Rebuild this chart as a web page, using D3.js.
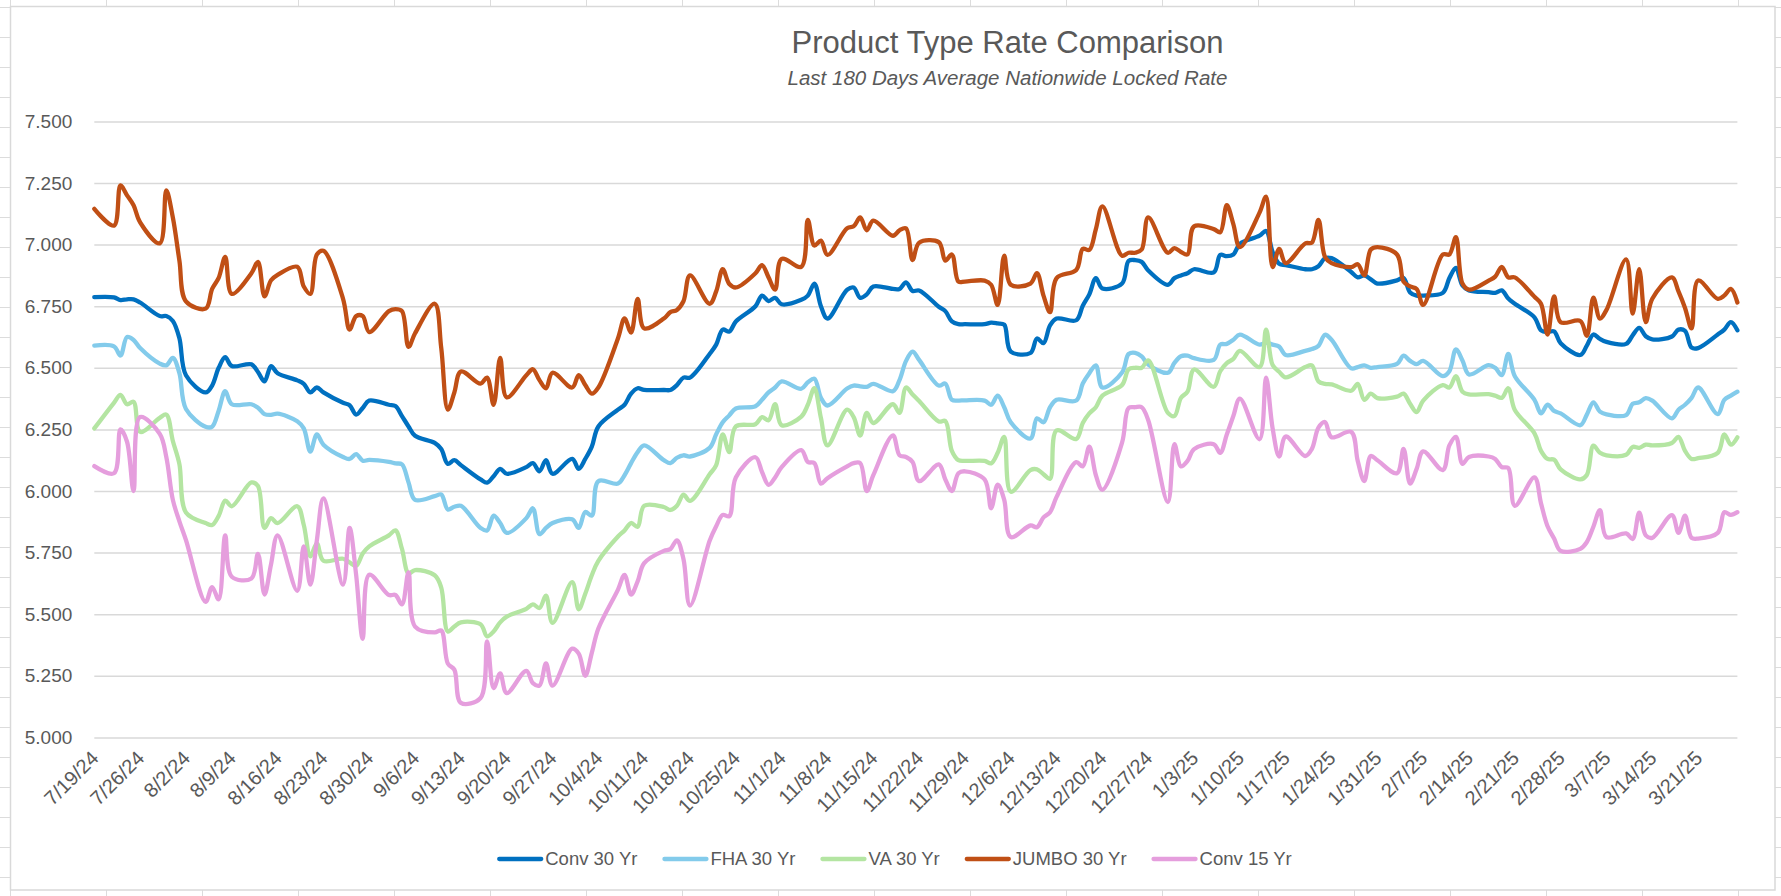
<!DOCTYPE html>
<html>
<head>
<meta charset="utf-8">
<title>Product Type Rate Comparison</title>
<script src="https://cdn.jsdelivr.net/npm/d3@7"></script>
<style>
  html, body { margin: 0; padding: 0; background: #ffffff; }
  svg { display: block; }
  text { font-family: "Liberation Sans", Arial, sans-serif; fill: #595959; }
</style>
</head>
<body>
<div id="chart"></div>
<script>
const FRAME_WIDTH = 1781;
const FRAME_HEIGHT = 896;

// plot box inside the chart area
const PLOT = {left: 94.3, right: 1737.4, top: 121.4, bottom: 737.4};

// ---- data ----
// one value per business day, 7/19/24 .. 3/27/25 (180 days)
const FIRST_DAY = "2024-07-19";
const LAST_DAY = "2025-03-27";

const SERIES_NAMES = ["Conv 30 Yr", "FHA 30 Yr", "VA 30 Yr", "JUMBO 30 Yr", "Conv 15 Yr"];

const X_TICK_LABELS = ["7/19/24", "7/26/24", "8/2/24", "8/9/24", "8/16/24", "8/23/24", "8/30/24",
  "9/6/24", "9/13/24", "9/20/24", "9/27/24", "10/4/24", "10/11/24", "10/18/24", "10/25/24",
  "11/1/24", "11/8/24", "11/15/24", "11/22/24", "11/29/24", "12/6/24", "12/13/24", "12/20/24",
  "12/27/24", "1/3/25", "1/10/25", "1/17/25", "1/24/25", "1/31/25", "2/7/25", "2/14/25",
  "2/21/25", "2/28/25", "3/7/25", "3/14/25", "3/21/25"];

const Y_TICKS = [5.0, 5.25, 5.5, 5.75, 6.0, 6.25, 6.5, 6.75, 7.0, 7.25, 7.5];

const conv30 = [
  6.787,
  6.786, 6.775, 6.778, 6.778, 6.765,
  6.71, 6.71, 6.69, 6.62, 6.47,
  6.40, 6.428, 6.50, 6.543, 6.507,
  6.514, 6.483, 6.445, 6.507, 6.478,
  6.449, 6.435, 6.40, 6.42, 6.40,
  6.358, 6.348, 6.31, 6.337, 6.367,
  6.35, 6.345, 6.304, 6.262, 6.224,
  6.195, 6.17, 6.11, 6.125, 6.105,
  6.047, 6.034, 6.06, 6.09, 6.07,
  6.097, 6.113, 6.08, 6.125, 6.07,
  6.13, 6.09, 6.13, 6.18, 6.262,
  6.33, 6.35, 6.395, 6.417, 6.41,
  6.41, 6.41, 6.43, 6.46, 6.46,
  6.556, 6.594, 6.655, 6.647, 6.688,
  6.75, 6.793, 6.771, 6.784, 6.758,
  6.776, 6.793, 6.842, 6.75, 6.70,
  6.817, 6.826, 6.784, 6.798, 6.83,
  6.82, 6.82, 6.847, 6.812, 6.814,
  6.748, 6.73, 6.688, 6.677, 6.677,
  6.677, 6.683, 6.68, 6.675, 6.566,
  6.56, 6.619, 6.60, 6.672, 6.70,
  6.693, 6.752, 6.798, 6.864, 6.822,
  6.842, 6.934, 6.937, 6.93, 6.895,
  6.837, 6.864, 6.875, 6.884, 6.90,
  6.887, 6.958, 6.953, 6.96, 7.003,
  7.036, 7.055, 6.97, 6.922, 6.917,
  6.90, 6.90, 6.912, 6.945, 6.945,
  6.889, 6.867, 6.875, 6.859, 6.842,
  6.855, 6.865, 6.806, 6.793, 6.793,
  6.804, 6.864, 6.905, 6.834, 6.814,
  6.807, 6.804, 6.814, 6.781, 6.76,
  6.705, 6.652, 6.645, 6.648, 6.60,
  6.552, 6.59, 6.635, 6.617, 6.605,
  6.597, 6.632, 6.662, 6.628, 6.615,
  6.627, 6.655, 6.65, 6.582, 6.58,
  6.635, 6.655, 6.685, 6.652
];

const fha30 = [
  6.59,
  6.587, 6.55, 6.625, 6.613, 6.58,
  6.517, 6.51, 6.54, 6.478, 6.333,
  6.261, 6.261, 6.326, 6.405, 6.352,
  6.352, 6.338, 6.312, 6.309, 6.314,
  6.283, 6.254, 6.16, 6.23, 6.188,
  6.138, 6.13, 6.15, 6.123, 6.126,
  6.118, 6.112, 6.108, 6.035, 5.964,
  5.979, 5.986, 5.925, 5.936, 5.94,
  5.85, 5.84, 5.90, 5.87, 5.83,
  5.89, 5.93, 5.825, 5.85, 5.87,
  5.885, 5.85, 5.915, 5.90, 6.04,
  6.03, 6.064, 6.113, 6.158, 6.185,
  6.125, 6.113, 6.135, 6.145, 6.14,
  6.175, 6.23, 6.279, 6.307, 6.335,
  6.344, 6.37, 6.40, 6.42, 6.445,
  6.415, 6.441, 6.456, 6.378, 6.347,
  6.416, 6.428, 6.425, 6.423, 6.435,
  6.405, 6.45, 6.528, 6.566, 6.532,
  6.428, 6.436, 6.37, 6.367, 6.368,
  6.367, 6.35, 6.387, 6.34, 6.279,
  6.213, 6.295, 6.279, 6.34, 6.37,
  6.367, 6.436, 6.478, 6.51, 6.42,
  6.481, 6.556, 6.561, 6.546, 6.513,
  6.48, 6.52, 6.547, 6.549, 6.539,
  6.532, 6.594, 6.597, 6.614, 6.635,
  6.594, 6.602, 6.594, 6.586, 6.552,
  6.569, 6.576, 6.589, 6.634, 6.614,
  6.498, 6.503, 6.51, 6.50, 6.503,
  6.516, 6.549, 6.528, 6.515, 6.528,
  6.466, 6.486, 6.575, 6.53, 6.473,
  6.511, 6.50, 6.47, 6.556, 6.466,
  6.37, 6.315, 6.35, 6.325, 6.315,
  6.267, 6.31, 6.36, 6.322, 6.311,
  6.308, 6.354, 6.36, 6.377, 6.367,
  6.295, 6.33, 6.35, 6.378, 6.42,
  6.312, 6.37, 6.387, 6.403
];

const va30 = [
  6.254,
  6.358, 6.39, 6.352, 6.362, 6.24,
  6.297, 6.31, 6.203, 6.109, 5.913,
  5.87, 5.862, 5.899, 5.961, 5.938,
  6.035, 6.02, 5.85, 5.89, 5.87,
  5.938, 5.862, 5.735, 5.787, 5.717,
  5.725, 5.71, 5.696, 5.746, 5.775,
  5.82, 5.84, 5.765, 5.666, 5.679,
  5.658, 5.608, 5.43, 5.45, 5.467,
  5.459, 5.41, 5.43, 5.467, 5.49,
  5.522, 5.54, 5.525, 5.575, 5.465,
  5.63, 5.52, 5.583, 5.658, 5.716,
  5.815, 5.84, 5.87, 5.855, 5.94,
  5.935, 5.923, 5.94, 5.985, 5.96,
  6.068, 6.105, 6.23, 6.158, 6.262,
  6.271, 6.30, 6.287, 6.352, 6.267,
  6.302, 6.35, 6.417, 6.296, 6.185,
  6.33, 6.30, 6.225, 6.317, 6.276,
  6.352, 6.317, 6.42, 6.392, 6.365,
  6.282, 6.284, 6.163, 6.125, 6.122,
  6.122, 6.112, 6.155, 6.22, 5.997,
  6.085, 6.088, 6.068, 6.05, 6.246,
  6.211, 6.276, 6.315, 6.34, 6.387,
  6.43, 6.494, 6.50, 6.50, 6.53,
  6.317, 6.304, 6.378, 6.403, 6.493,
  6.423, 6.486, 6.519, 6.536, 6.569,
  6.503, 6.655, 6.511, 6.484, 6.461,
  6.503, 6.51, 6.445, 6.435, 6.433,
  6.407, 6.435, 6.37, 6.395, 6.377,
  6.383, 6.395, 6.354, 6.32, 6.367,
  6.43, 6.42, 6.466, 6.403, 6.392,
  6.393, 6.387, 6.378, 6.417, 6.329,
  6.234, 6.163, 6.13, 6.127, 6.088,
  6.047, 6.065, 6.184, 6.155, 6.145,
  6.147, 6.179, 6.175, 6.188, 6.185,
  6.195, 6.22, 6.163, 6.13, 6.133,
  6.155, 6.23, 6.188, 6.218
];

const jumbo30 = [
  7.145,
  7.077, 7.24, 7.20, 7.16, 7.09,
  7.005, 7.22, 7.11, 6.935, 6.77,
  6.74, 6.82, 6.865, 6.95, 6.80,
  6.884, 6.93, 6.79, 6.855, 6.877,
  6.91, 6.83, 6.80, 6.96, 6.975,
  6.78, 6.655, 6.71, 6.71, 6.645,
  6.73, 6.738, 6.73, 6.585, 6.64,
  6.76, 6.58, 6.33, 6.40, 6.485,
  6.436, 6.46, 6.35, 6.54, 6.38,
  6.47, 6.494, 6.45, 6.417, 6.48,
  6.42, 6.47, 6.43, 6.395, 6.42,
  6.62, 6.70, 6.643, 6.78, 6.66,
  6.70, 6.726, 6.735, 6.77, 6.875,
  6.76, 6.81, 6.90, 6.84, 6.826,
  6.884, 6.917, 6.867, 6.817, 6.942,
  6.91, 7.10, 6.996, 7.016, 6.958,
  7.066, 7.074, 7.11, 7.058, 7.097,
  7.036, 7.058, 7.066, 6.937, 7.008,
  7.01, 6.935, 6.96, 6.85, 6.85,
  6.854, 6.837, 6.755, 6.955, 6.837,
  6.842, 6.884, 6.793, 6.726, 6.864,
  6.897, 6.983, 6.978, 7.063, 7.155,
  6.955, 6.967, 6.967, 6.98, 7.11,
  6.967, 6.986, 6.97, 6.96, 7.074,
  7.063, 7.05, 7.16, 7.083, 6.99,
  7.13, 7.195, 6.909, 6.983, 6.925,
  7.005, 7.008, 7.10, 6.95, 6.925,
  6.909, 6.92, 6.875, 6.98, 6.99,
  6.96, 6.85, 6.83, 6.82, 6.755,
  6.96, 6.96, 7.03, 6.842, 6.817,
  6.854, 6.87, 6.91, 6.867, 6.867,
  6.788, 6.76, 6.635, 6.79, 6.685,
  6.69, 6.63, 6.785, 6.70, 6.735,
  6.94, 6.72, 6.90, 6.685, 6.78,
  6.867, 6.81, 6.743, 6.66, 6.854,
  6.78, 6.793, 6.82, 6.765
];

const conv15 = [
  6.101,
  6.072, 6.25, 6.20, 6.0, 6.30,
  6.232, 6.138, 5.964, 5.877, 5.801,
  5.55, 5.61, 5.56, 5.82, 5.652,
  5.645, 5.745, 5.58, 5.703, 5.82,
  5.595, 5.775, 5.62, 5.80, 5.97,
  5.62, 5.85, 5.659, 5.40, 5.66,
  5.578, 5.578, 5.54, 5.67, 5.45,
  5.426, 5.434, 5.30, 5.275, 5.14,
  5.16, 5.39, 5.20, 5.26, 5.18,
  5.27, 5.22, 5.21, 5.30, 5.21,
  5.36, 5.34, 5.25, 5.343, 5.442,
  5.60, 5.66, 5.58, 5.633, 5.707,
  5.757, 5.764, 5.80, 5.724, 5.535,
  5.798, 5.857, 5.903, 5.898, 6.055,
  6.137, 6.077, 6.025, 6.055, 6.097,
  6.166, 6.118, 6.113, 6.03, 6.052,
  6.10, 6.113, 6.113, 6.0, 6.064,
  6.226, 6.145, 6.138, 6.118, 6.04,
  6.108, 6.047, 6.0, 6.072, 6.08,
  6.047, 5.93, 6.026, 5.964, 5.813,
  5.86, 5.853, 5.893, 5.914, 5.976,
  6.117, 6.10, 6.18, 6.064, 6.005,
  6.196, 6.337, 6.34, 6.34, 6.287,
  5.955, 6.19, 6.10, 6.122, 6.17,
  6.19, 6.155, 6.229, 6.304, 6.375,
  6.21, 6.46, 6.254, 6.14, 6.221,
  6.142, 6.171, 6.257, 6.28, 6.218,
  6.24, 6.122, 6.04, 6.142, 6.125,
  6.072, 6.171, 6.03, 6.09, 6.161,
  6.085, 6.185, 6.22, 6.11, 6.138,
  6.14, 6.13, 6.097, 6.093, 5.94,
  6.055, 5.95, 5.857, 5.807, 5.757,
  5.765, 5.793, 5.855, 5.922, 5.813,
  5.828, 5.805, 5.912, 5.82, 5.81,
  5.902, 5.83, 5.90, 5.81, 5.807,
  5.83, 5.914, 5.903, 5.914
];

const SERIES_VALUES = [conv30, fha30, va30, jumbo30, conv15];
const SERIES_COLORS = ["#0070c0", "#83cbeb", "#b4e5a2", "#c04f15", "#e59edd"];

// ---- build ----
const parseIso = d3.timeParse("%Y-%m-%d");
const parseTick = d3.timeParse("%m/%d/%y");

// business days between the first and last day
const DATES = d3.timeDay.range(parseIso(FIRST_DAY), d3.timeDay.offset(parseIso(LAST_DAY), 1))
                .filter(d => d.getDay() !== 0 && d.getDay() !== 6);

SERIES_VALUES.forEach((s, i) => {
    if (s.length !== DATES.length) console.error(SERIES_NAMES[i] + " has " + s.length + " values, dates: " + DATES.length);
});

const svg = d3.select("#chart")
              .append("svg")
                .attr("width", FRAME_WIDTH)
                .attr("height", FRAME_HEIGHT);

// spreadsheet cells behind the chart
const sheet = svg.append("g").attr("stroke", "#dcdcdc").attr("stroke-width", 1);
sheet.append("rect")
    .attr("width", FRAME_WIDTH).attr("height", FRAME_HEIGHT)
    .attr("fill", "#ffffff").attr("stroke", "none");
sheet.selectAll("line.col")
    .data(d3.range(10.5, FRAME_WIDTH, 96))
    .enter().append("line")
      .attr("class", "col")
      .attr("x1", d => d).attr("x2", d => d)
      .attr("y1", 0).attr("y2", FRAME_HEIGHT);
sheet.selectAll("line.row")
    .data(d3.range(7.5, FRAME_HEIGHT, 30))
    .enter().append("line")
      .attr("class", "row")
      .attr("y1", d => d).attr("y2", d => d)
      .attr("x1", 0).attr("x2", FRAME_WIDTH);

// chart area
svg.append("rect")
    .attr("x", 10.5).attr("y", 6.5)
    .attr("width", 1764.5).attr("height", 883.5)
    .attr("fill", "#ffffff")
    .attr("stroke", "#d9d9d9")
    .attr("stroke-width", 1.5);

const X_SCALE = d3.scaleTime()
                  .domain([DATES[0], DATES[DATES.length - 1]])
                  .range([PLOT.left, PLOT.right]);
const Y_SCALE = d3.scaleLinear()
                  .domain([5, 7.5])
                  .range([PLOT.bottom, PLOT.top]);

// y axis with gridlines
svg.append("g")
    .attr("transform", "translate(" + PLOT.left + ",0)")
    .call(d3.axisLeft(Y_SCALE)
            .tickValues(Y_TICKS)
            .tickFormat(d3.format(".3f"))
            .tickSize(-(PLOT.right - PLOT.left))
            .tickPadding(22))
    .attr("font-size", 19)
    .call(g => g.select(".domain").remove())
    .call(g => g.selectAll(".tick line")
                .attr("stroke", "#d9d9d9")
                .attr("stroke-width", 1.5));

// x axis, weekly labels turned 45 degrees
svg.append("g")
    .attr("transform", "translate(0," + PLOT.bottom + ")")
    .call(d3.axisBottom(X_SCALE)
            .tickValues(X_TICK_LABELS.map(parseTick))
            .tickFormat((d, i) => X_TICK_LABELS[i])
            .tickSize(0)
            .tickPadding(0))
    .attr("font-size", 20)
    .call(g => g.select(".domain").remove())
    .call(g => g.selectAll(".tick text")
                .attr("y", 0)
                .attr("dy", "0.35em")
                .attr("text-anchor", "end")
                .attr("transform", "translate(0,17) rotate(-45)"));

// series lines
const line = d3.line()
               .x((d, i) => X_SCALE(DATES[i]))
               .y(d => Y_SCALE(d))
               .curve(d3.curveCatmullRom.alpha(0.5));

svg.append("g")
    .selectAll("path")
    .data(SERIES_VALUES)
    .enter()
    .append("path")
      .attr("d", d => line(d))
      .attr("fill", "none")
      .attr("stroke", (d, i) => SERIES_COLORS[i])
      .attr("stroke-width", 4.3)
      .attr("stroke-linecap", "round")
      .attr("stroke-linejoin", "round");

// titles
svg.append("text")
    .attr("x", 1007.5).attr("y", 53)
    .attr("text-anchor", "middle")
    .attr("font-size", 31)
    .text("Product Type Rate Comparison");
svg.append("text")
    .attr("x", 1007.5).attr("y", 85)
    .attr("text-anchor", "middle")
    .attr("font-size", 20.5)
    .attr("font-style", "italic")
    .text("Last 180 Days Average Nationwide Locked Rate");

// legend, centred under the chart
const LEGEND_Y = 859;
const legend = svg.append("g");
const items = legend.selectAll("g")
    .data(SERIES_NAMES)
    .enter().append("g");
items.append("line")
    .attr("x1", 0).attr("x2", 42)
    .attr("y1", LEGEND_Y).attr("y2", LEGEND_Y)
    .attr("stroke", (d, i) => SERIES_COLORS[i])
    .attr("stroke-width", 4.3)
    .attr("stroke-linecap", "round");
items.append("text")
    .attr("x", 46).attr("y", LEGEND_Y)
    .attr("dy", "0.35em")
    .attr("font-size", 18.5)
    .text(d => d);

let cursor = 0;
const offsets = [];
items.each(function () {
    offsets.push(cursor);
    cursor += 46 + this.querySelector("text").getComputedTextLength() + 27;
});
const legendWidth = cursor - 27;
const legendLeft = 895.5 - legendWidth / 2;
items.attr("transform", (d, i) => "translate(" + (legendLeft + offsets[i]) + ",0)");
</script>
</body>
</html>
